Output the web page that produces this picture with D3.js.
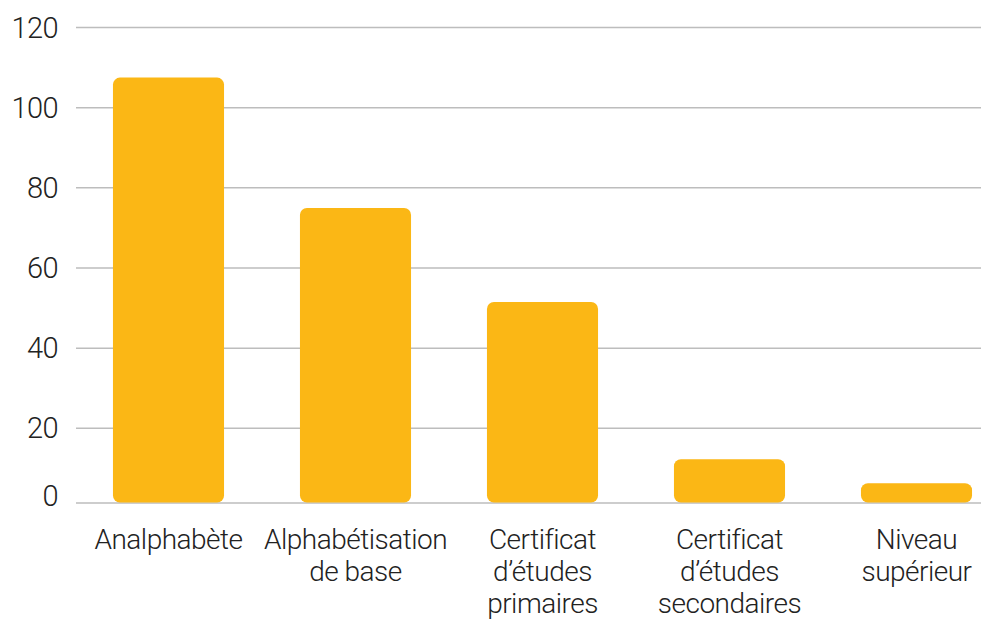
<!DOCTYPE html>
<html><head><meta charset="utf-8">
<script src="https://cdn.jsdelivr.net/npm/d3@7"></script>
<style>
html,body{margin:0;padding:0;background:#fff;}
svg{display:block;}
text{font-family:Roboto,"Liberation Sans",Arial,sans-serif;font-weight:300;fill:#222;}
</style></head>
<body><svg id="c" width="981" height="620"></svg>
<script>
const categories = [["Analphabète"],["Alphabétisation","de base"],["Certificat","d’études","primaires"],["Certificat","d’études","secondaires"],["Niveau","supérieur"]];
const values = [107.5, 75.0, 51.5, 12.3, 6.3];
const yTicks = [0, 20, 40, 60, 80, 100, 120];

const svg = d3.select("#c");
const y = d3.scaleLinear().domain([0,120]).range([508.5, 27.5]);
const x = d3.scaleBand().domain(d3.range(categories.length)).range([75, 1010]).paddingInner(0.406).paddingOuter(0.203);
const base = y(0) - 5.5;

// gridlines
svg.append("g").selectAll("line").data(yTicks).join("line")
  .attr("x1",76).attr("x2",981)
  .attr("y1",d=> d===0 ? base : y(d)).attr("y2",d=> d===0 ? base : y(d))
  .attr("stroke","#bdbdbd").attr("stroke-width",1.5);

// y labels
svg.append("g").selectAll("text").data(yTicks).join("text")
  .attr("x",58).attr("y",d=> d===0 ? base-7 : y(d))
  .attr("text-anchor","end").attr("dominant-baseline","central")
  .style("font-size","29px").style("letter-spacing","-0.6px").text(d=>d);

// bars
svg.append("g").selectAll("rect").data(values).join("rect")
  .attr("x",(d,i)=>x(i)).attr("width",x.bandwidth())
  .attr("y",d=>y(d)).attr("height",d=>base-0.5-y(d))
  .attr("rx",7).attr("ry",7).attr("fill","#FBB715");

// category labels
const lab = svg.append("g").selectAll("text").data(categories).join("text")
  .attr("text-anchor","middle").style("font-size","28px").style("letter-spacing","-0.5px");
lab.each(function(lines,i){
  d3.select(this).selectAll("tspan").data(lines).join("tspan")
    .attr("x", x(i)+x.bandwidth()/2).attr("y",(d,j)=>549+j*32).text(d=>d);
});
</script></body></html>
